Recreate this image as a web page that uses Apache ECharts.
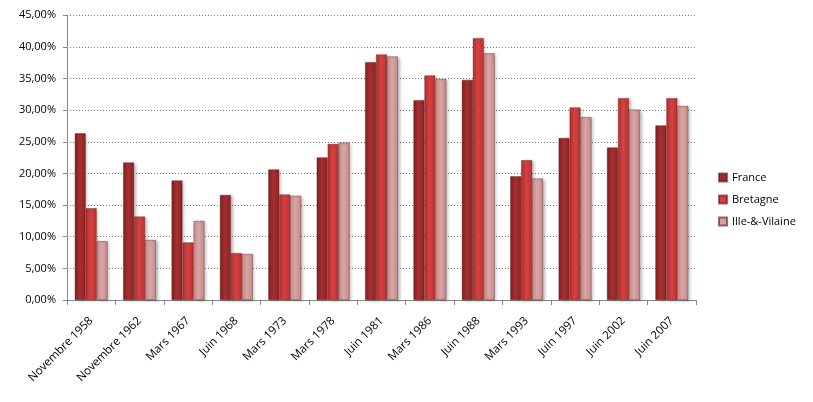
<!DOCTYPE html>
<html>
<head>
<meta charset="utf-8">
<script src="https://cdn.jsdelivr.net/npm/echarts@6/dist/echarts.min.js"></script>
<style>html,body{margin:0;padding:0;background:#fff}#c{width:813px;height:402px}</style>
</head>
<body>
<div id="c"></div>
<script>
const categories = ["Novembre 1958","Novembre 1962","Mars 1967","Juin 1968","Mars 1973","Mars 1978","Juin 1981","Mars 1986","Juin 1988","Mars 1993","Juin 1997","Juin 2002","Juin 2007"];
const france = [26.35, 21.76, 18.9, 16.6, 20.65, 22.55, 37.6, 31.6, 34.8, 19.55, 25.6, 24.1, 27.6];
const bretagne = [14.5, 13.2, 9.1, 7.4, 16.7, 24.66, 38.8, 35.5, 41.4, 22.1, 30.45, 31.9, 31.9];
const illeEtVilaine = [9.3, 9.48, 12.5, 7.27, 16.5, 24.9, 38.5, 34.9, 39.0, 19.2, 28.9, 30.1, 30.66];
const seriesNames = ["France", "Bretagne", "Ille-&-Vilaine"];

function grad(c1, c2, c3) {
  return new echarts.graphic.LinearGradient(0, 0, 1, 0, [
    {offset: 0, color: c1}, {offset: 0.45, color: c2}, {offset: 1, color: c3}
  ]);
}
const fills = [
  grad('#7e1f20', '#a83030', '#8a2425'),
  grad('#b52f2f', '#d64242', '#b83232'),
  grad('#c98c8c', '#dba6a6', '#c08a8a')
];
const legendColors = ['#a12b2c', '#d23c3c', '#d6a0a0'];
const data = [france, bretagne, illeEtVilaine];

const chart = echarts.init(document.getElementById('c'), null, {renderer: 'canvas'});
chart.setOption({
  animation: false,
  backgroundColor: '#fff',
  textStyle: {fontFamily: 'Open Sans'},
  grid: {left: 67, top: 15.3, right: 117, bottom: 102},
  legend: {
    orient: 'vertical', left: 713, top: 167, itemWidth: 8, itemHeight: 8, itemGap: 11,
    textStyle: {fontSize: 11, color: '#000', fontFamily: 'Open Sans'},
    data: seriesNames.map((n, i) => ({name: n, itemStyle: {color: legendColors[i]}, icon: 'rect'}))
  },
  xAxis: {
    type: 'category', data: categories,
    axisLine: {lineStyle: {color: '#868686'}},
    axisTick: {show: true, length: 5, lineStyle: {color: '#868686'}},
    axisLabel: {rotate: 45, fontSize: 11.5, color: '#000', margin: 19, interval: 0, fontFamily: 'Open Sans'}
  },
  yAxis: {
    type: 'value', min: 0, max: 45, interval: 5,
    axisLine: {show: true, lineStyle: {color: '#868686'}},
    axisTick: {show: true, length: 4, inside: false, lineStyle: {color: '#868686'}},
    splitLine: {lineStyle: {color: '#777', type: [1, 2], width: 1}},
    axisLabel: {fontSize: 11, color: '#000', margin: 11, fontFamily: 'Open Sans',
      formatter: v => v.toFixed(2).replace('.', ',') + '%'}
  },
  series: seriesNames.map((n, i) => ({
    name: n, type: 'bar', data: data[i],
    barGap: '0%', barCategoryGap: '32%',
    itemStyle: {color: fills[i], borderColor: 'rgba(90,20,20,0.6)', borderWidth: 0.6,
      shadowColor: 'rgba(0,0,0,0.25)', shadowBlur: 3, shadowOffsetX: 2, shadowOffsetY: 1}
  }))
});
</script>
</body>
</html>
